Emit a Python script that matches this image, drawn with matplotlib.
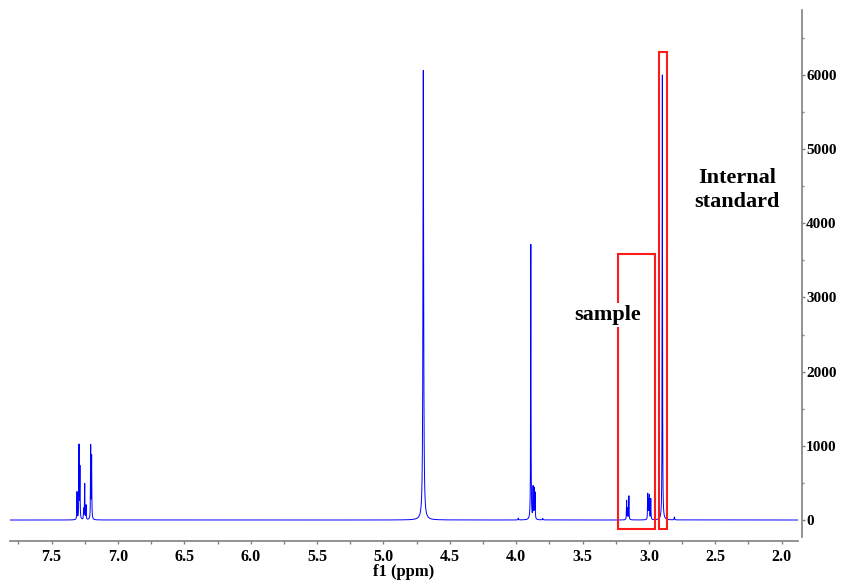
import numpy as np
import matplotlib
matplotlib.use("Agg")
import matplotlib.pyplot as plt
from matplotlib.patches import Rectangle
from matplotlib.ticker import MultipleLocator, FormatStrFormatter

plt.rcParams['font.family'] = ['Liberation Serif', 'DejaVu Serif']
plt.rcParams['font.weight'] = 'bold'

# Peak list (ppm, intensity, half-width in ppm)
peak_ppm = [7.309, 7.294, 7.287, 7.259, 7.251, 7.241, 7.206, 7.199,
            4.700,
            3.984, 3.890, 3.873, 3.865, 3.858, 3.800,
            3.168, 3.160, 3.151,
            3.009, 3.003, 2.997, 2.986,
            2.899, 2.808]
peak_height = [370, 990, 690, 140, 480, 190, 980, 840,
               6060,
               25, 3710, 420, 400, 350, 20,
               260, 150, 320,
               340, 250, 320, 280,
               6000, 40]
peak_width = [0.0015, 0.0015, 0.0015, 0.0015, 0.0015, 0.0015, 0.0015, 0.0015,
              0.003,
              0.002, 0.0015, 0.0015, 0.0015, 0.0015, 0.002,
              0.0015, 0.0015, 0.0015,
              0.0015, 0.0015, 0.0015, 0.0015,
              0.0015, 0.002]

# Annotation boxes (ppm range, intensity range)
sample_box = (3.235, 2.954, -121, 3582)
standard_box = (2.921, 2.866, -121, 6314)

x_lim = (7.814, 1.877)
y_lim = (-283, 6876)

ppm = np.arange(x_lim[1], x_lim[0], 0.00005)
ppm = np.union1d(ppm, np.array(peak_ppm))
spec = np.zeros_like(ppm)
for p, h, w in zip(peak_ppm, peak_height, peak_width):
    spec += h / (1.0 + ((ppm - p) / w) ** 2)

W, H = 841, 584
fig = plt.figure(figsize=(W / 100, H / 100), dpi=100)
ax = fig.add_axes([10 / W, (H - 541) / H, (798 - 10) / W, (541 - 10) / H])

ax.plot(ppm, spec, color='#0000ff', lw=0.7)
ax.set_xlim(*x_lim)
ax.set_ylim(*y_lim)

gray = '#808080'
for s in ['left', 'top']:
    ax.spines[s].set_visible(False)
ax.spines['bottom'].set_color(gray)
ax.spines['right'].set_color(gray)
ax.spines['bottom'].set_linewidth(1.2)
ax.spines['right'].set_linewidth(1.2)
ax.spines['right'].set_position(('outward', 2.7))
ax.spines['right'].set_bounds(-229, y_lim[1])

ax.yaxis.tick_right()
ax.xaxis.set_major_locator(MultipleLocator(0.5))
ax.xaxis.set_minor_locator(MultipleLocator(0.25))
ax.xaxis.set_major_formatter(FormatStrFormatter('%.1f'))
ax.yaxis.set_major_locator(MultipleLocator(1000))
ax.yaxis.set_minor_locator(MultipleLocator(500))

ax.tick_params(axis='x', which='both', direction='out', length=2.2, width=1,
               color=gray, labelsize=11.5, pad=3.5)
ax.tick_params(axis='y', which='major', direction='out', length=2.2, width=1,
               color=gray, labelsize=11, pad=1)
ax.tick_params(axis='y', which='minor', direction='out', length=1.2, width=1,
               color=gray)
for lab in ax.get_xticklabels() + ax.get_yticklabels():
    lab.set_fontweight('bold')

ax.set_xlabel('f1 (ppm)', fontsize=12, fontweight='bold', labelpad=-1)

for (x0, x1, y0, y1) in [sample_box, standard_box]:
    ax.add_patch(Rectangle((x0, y0), x1 - x0, y1 - y0, fill=False,
                           edgecolor='#ff1a1a', lw=1.5, zorder=3))

ax.text(3.315, 2764, 'sample', fontsize=16, fontweight='bold', ha='center',
        va='center', zorder=4,
        bbox=dict(facecolor='white', edgecolor='none', pad=1.5))
ax.text(2.336, 4450, 'Internal\nstandard', fontsize=16, fontweight='bold',
        ha='center', va='center', linespacing=1.3)

fig.savefig('out.png', dpi=100)
